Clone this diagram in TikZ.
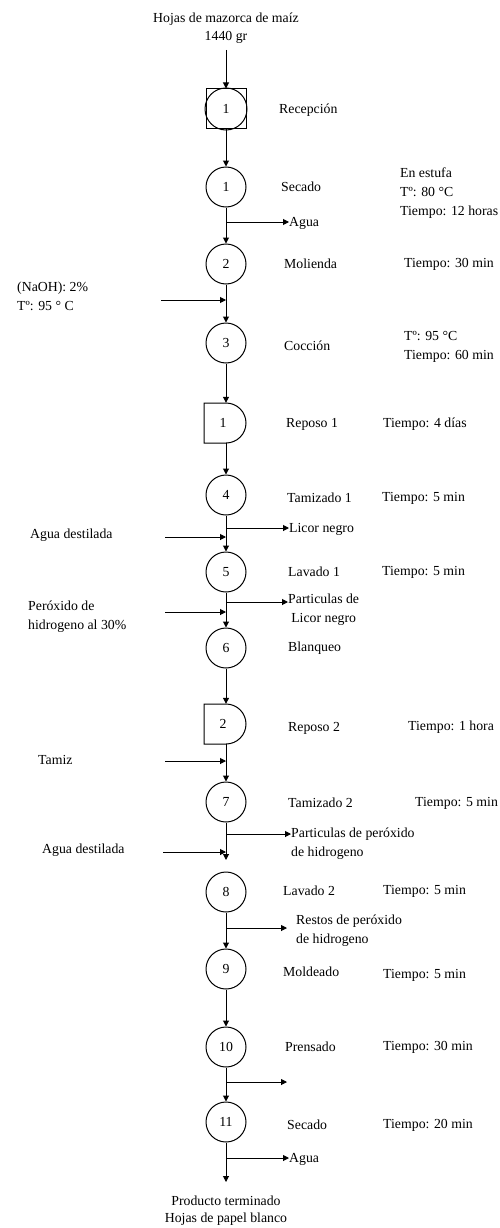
\documentclass[tikz,border=0pt]{standalone}
\usepackage{fontspec}
\setmainfont{Liberation Serif}
\usetikzlibrary{arrows.meta}
\begin{document}
\begin{tikzpicture}[x=1pt,y=-1pt,
  every node/.style={font=\fontsize{13.8}{19}\selectfont, inner sep=0pt},
  op/.style={draw, circle, minimum size=40pt, line width=1pt},
  sq/.style={draw, rectangle, minimum size=40pt, line width=1pt},
  ghost/.style={rectangle, minimum width=44pt, minimum height=40pt},
  lab/.style={anchor=west},
  ln/.style={line width=1pt},
  arr/.style={-{Triangle[length=6pt,width=6pt]}, line width=1pt}]
\useasboundingbox (0,0) rectangle (499,1228);

% top
\node[align=center, font=\fontsize{13.8}{18}\selectfont] (top) at (226,28) {Hojas de mazorca de maíz\\1440 gr};
\coordinate (s0) at (226,50);

% Recepcion
\node[sq] (rec) at (226,109) {};
\node[op, minimum size=42pt] (c0) at (226,109) {1};
\node[lab] (lrec) at (279,110) {Recepción};

% Secado 1
\node[op] (c1) at (226,187) {1};
\node[lab] (l1) at (281,187) {Secado};
\node[lab, align=left] (n1) at (400,193) {En estufa\\Tº: 80 °C\\Tiempo: 12 horas};
\coordinate (b1) at (226,222);
\node[lab] (o1) at (289,223) {Agua};

% Molienda
\node[op] (c2) at (226,264) {2};
\node[lab] (l2) at (284,264) {Molienda};
\node[lab] (t2) at (404,264) {Tiempo: 30 min};
\node[lab, align=left] (in1) at (17,296) {(NaOH): 2\%\\Tº: 95 ° C};
\coordinate (i1a) at (161,300);
\coordinate (i1b) at (226,300);

% Coccion
\node[op] (c3) at (226,343) {3};
\node[lab] (l3) at (284,346) {Cocción};
\node[lab, align=left] (t3) at (404,346.5) {Tº: 95 °C\\Tiempo: 60 min};

% Reposo 1
\node[ghost] (d1) at (226,423) {};
\draw[ln] (204,403) -- (226,403) arc[start angle=90, end angle=-90, radius=20pt] -- (204,443) -- cycle;
\node (d1n) at (223,423) {1};
\node[lab] (ld1) at (286,424) {Reposo 1};
\node[lab] (td1) at (383,424) {Tiempo: 4 días};

% Tamizado 1
\node[op] (c4) at (226,495) {4};
\node[lab] (l4) at (287,498) {Tamizado 1};
\node[lab] (t4) at (382,498) {Tiempo: 5 min};
\coordinate (b4) at (226,528);
\node[lab] (o4) at (289,529) {Licor negro};
\node[lab] (in4) at (30,535) {Agua destilada};
\coordinate (i4a) at (165,537);
\coordinate (i4b) at (226,537);

% Lavado 1
\node[op] (c5) at (226,572) {5};
\node[lab] (l5) at (288,572) {Lavado 1};
\node[lab] (t5) at (382,572) {Tiempo: 5 min};
\coordinate (b5) at (226,602);
\node[lab, align=center] (o5) at (288,610) {Particulas de\\Licor negro};
\node[lab, align=left] (in5) at (28,617) {Peróxido de\\hidrogeno al 30\%};
\coordinate (i5a) at (165,612);
\coordinate (i5b) at (226,612);

% Blanqueo
\node[op] (c6) at (226,648) {6};
\node[lab] (l6) at (288,648) {Blanqueo};

% Reposo 2
\node[ghost] (d2) at (226,724) {};
\draw[ln] (204,704) -- (226,704) arc[start angle=90, end angle=-90, radius=20pt] -- (204,744) -- cycle;
\node (d2n) at (223,724) {2};
\node[lab] (ld2) at (288,728) {Reposo 2};
\node[lab] (td2) at (408,727) {Tiempo: 1 hora};
\node[lab] (in6) at (38,760) {Tamiz};
\coordinate (i6a) at (165,761);
\coordinate (i6b) at (226,761);

% Tamizado 2
\node[op] (c7) at (226,802) {7};
\node[lab] (l7) at (288,803) {Tamizado 2};
\node[lab] (t7) at (415,803) {Tiempo: 5 min};
\coordinate (b7) at (226,834);
\node[lab, align=left] (o7) at (291,843.5) {Particulas de peróxido\\de hidrogeno};
\node[lab] (in7) at (42,850) {Agua destilada};
\coordinate (i7a) at (163,852);
\coordinate (i7b) at (226,852);
\coordinate (e7) at (226,860);

% Lavado 2
\node[op] (c8) at (226,892) {8};
\node[lab] (l8) at (283,891) {Lavado 2};
\node[lab] (t8) at (383,891) {Tiempo: 5 min};
\coordinate (b8) at (226,928);
\coordinate (b8e) at (287,928);
\node[lab, align=left] (o8) at (296,930.5) {Restos de peróxido\\de hidrogeno};

% Moldeado
\node[op] (c9) at (226,969) {9};
\node[lab] (l9) at (283,972) {Moldeado};
\node[lab] (t9) at (383,975) {Tiempo: 5 min};

% Prensado
\node[op] (c10) at (226,1047) {10};
\node[lab] (l10) at (285,1047) {Prensado};
\node[lab] (t10) at (383,1047) {Tiempo: 30 min};
\coordinate (b10) at (226,1082);
\coordinate (b10e) at (287,1082);

% Secado 2
\node[op] (c11) at (226,1122) {11};
\node[lab] (l11) at (287,1125) {Secado};
\node[lab] (t11) at (383,1125) {Tiempo: 20 min};
\coordinate (b11) at (226,1158);
\node[lab] (o11) at (289,1159) {Agua};
\coordinate (e11) at (226,1182);
\node[align=center, font=\fontsize{13.8}{17}\selectfont] (bot) at (226,1210.5) {Producto terminado\\Hojas de papel blanco};

% connectors
\draw[arr] (s0) -- (rec.north);
\draw[arr] (rec.south) -- (c1.north);
\draw[arr] (c1.south) -- (c2.north);
\draw[arr] (b1) -- (b1 -| o1.west);
\draw[arr] (c2.south) -- (c3.north);
\draw[arr] (i1a) -- (i1b);
\draw[arr] (c3.south) -- (d1.north);
\draw[arr] (d1.south) -- (c4.north);
\draw[arr] (c4.south) -- (c5.north);
\draw[arr] (b4) -- (b4 -| o4.west);
\draw[arr] (i4a) -- (i4b);
\draw[arr] (c5.south) -- (c6.north);
\draw[arr] (b5) -- (b5 -| o5.west);
\draw[arr] (i5a) -- (i5b);
\draw[arr] (c6.south) -- (d2.north);
\draw[arr] (d2.south) -- (c7.north);
\draw[arr] (i6a) -- (i6b);
\draw[arr] (c7.south) -- (e7);
\draw[arr] (b7) -- (b7 -| o7.west);
\draw[arr] (i7a) -- (i7b);
\draw[arr] (c8.south) -- (c9.north);
\draw[arr] (b8) -- (b8e);
\draw[arr] (c9.south) -- (c10.north);
\draw[arr] (c10.south) -- (c11.north);
\draw[arr] (b10) -- (b10e);
\draw[arr] (c11.south) -- (e11);
\draw[arr] (b11) -- (b11 -| o11.west);
\end{tikzpicture}
\end{document}
